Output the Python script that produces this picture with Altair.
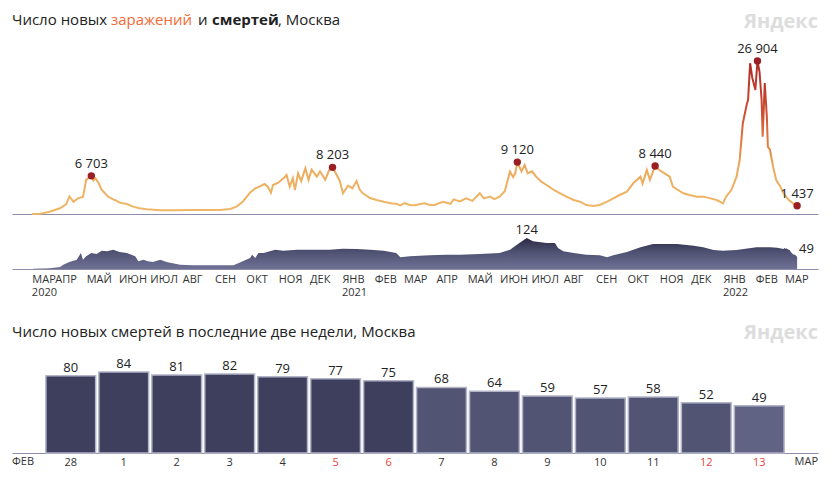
import altair as alt
import pandas as pd

FONT = "Open Sans"
TXT = "#222222"
AXIS_LINE = "#8e8ca8"

MONTHS_RU = ["ЯНВ", "ФЕВ", "МАР", "АПР", "МАЙ", "ИЮН", "ИЮЛ", "АВГ", "СЕН", "ОКТ", "НОЯ", "ДЕК"]
START = "2020-03-10"

# --- daily new cases, Moscow, day offset from 2020-03-10
case_days = [0, 8, 17, 27, 33, 36, 40, 44, 49, 52, 57, 59, 61, 64, 67, 70, 73, 78, 81, 84, 91, 97, 103, 110,
             123, 137, 151, 166, 180, 190, 196, 202, 209, 214, 218, 223, 226, 229, 231, 236, 241, 244, 247, 250,
             252, 255, 258, 262, 265, 268, 273, 276, 281, 285, 288, 292, 295, 298, 303, 307, 311, 314, 317, 324,
             330, 338, 345, 349, 353, 357, 362, 367, 372, 376, 381, 386, 390, 394, 401, 404, 410, 416, 422, 429,
             433, 439, 443, 448, 453, 458, 461, 463, 465, 469, 472, 475, 479, 483, 488, 493, 500, 506, 512, 519,
             525, 531, 538, 544, 551, 557, 563, 570, 576, 583, 585, 589, 592, 597, 601, 606, 611, 614, 619, 624,
             630, 637, 643, 650, 656, 662, 665, 670, 675, 678, 681, 685, 686, 688, 690, 693, 695, 697, 699, 700,
             702, 704, 705, 707, 710, 713, 717, 720, 725, 729, 733]
case_values = [20, 60, 400, 1000, 1760, 3100, 2150, 2750, 3000, 6000, 6703, 5900, 6270, 5400, 4220, 3640, 3050,
               2580, 2330, 2000, 1760, 1290, 1000, 820, 650, 680, 690, 690, 700, 880, 1300, 2160, 3750, 4520,
               4800, 5270, 4800, 3750, 5100, 5500, 6270, 6860, 4800, 6270, 4220, 7150, 5800, 8030, 6000, 7800,
               6560, 7500, 6000, 7800, 8203, 6860, 5800, 3640, 5000, 4500, 5800, 4300, 3640, 2800, 2450, 2100,
               1850, 1800, 1500, 1900, 1600, 1550, 1750, 1900, 1580, 1600, 1900, 2160, 1800, 2580, 2200, 2750,
               2300, 3640, 2750, 3050, 2600, 3050, 4000, 7440, 6500, 7150, 9120, 7500, 8600, 7150, 7500, 6560,
               5680, 5100, 4220, 3640, 3050, 2460, 2160, 1580, 1400, 1580, 2160, 2750, 3340, 3930, 5400, 6560,
               5300, 7740, 6000, 8440, 7740, 7150, 6560, 4800, 4220, 3640, 3350, 3050, 3050, 2750, 2460, 1880,
               3050, 4220, 6560, 9500, 15950, 19460, 20000, 26500, 24000, 21800, 26904, 25000, 20000, 13600,
               23000, 17100, 11800, 11300, 8300, 5970, 4800, 3640, 2460, 1880, 1437]

# --- daily deaths, Moscow
death_days = [1, 17, 27, 30, 36, 43, 47, 49, 52, 57, 62, 67, 72, 78, 84, 91, 99, 102, 107, 111, 116, 123, 129,
              142, 154, 173, 193, 196, 202, 209, 211, 214, 217, 222, 228, 233, 241, 254, 269, 285, 298, 311, 324,
              337, 349, 353, 362, 381, 397, 410, 429, 448, 458, 467, 473, 474, 480, 493, 501, 504, 509, 519, 531,
              544, 551, 557, 570, 583, 595, 605, 618, 634, 643, 653, 662, 675, 694, 707, 714,
              720, 721, 722, 723, 724, 725, 726, 727, 728, 729, 730, 731, 732, 733]
death_values = [1, 3, 8, 17, 28, 37, 64, 37, 51, 64, 60, 73, 71, 77, 68, 64, 51, 31, 37, 31, 28, 37, 28,
                17, 15, 15, 15, 20, 31, 44, 57, 44, 64, 64, 71, 77, 73, 77, 77, 77, 81, 80, 77,
                73, 64, 47, 51, 55, 57, 57, 60, 64, 77, 104, 121, 124, 111, 104, 104, 84, 71, 64, 57,
                55, 47, 55, 68, 87, 100, 100, 100, 93, 87, 76, 73, 76, 87, 87, 85,
                80, 84, 81, 82, 79, 77, 75, 68, 64, 59, 57, 58, 52, 49]

case_peak_days = [57, 288, 465, 597, 695, 733]
case_peak_values = [6703, 8203, 9120, 8440, 26904, 1437]
death_mark_days = [474]
death_mark_values = [124]
death_last_day = [733]
death_last_value = [49]

# year labels under the month axis
year_dates = ["2020-03-10", "2021-01-01", "2022-01-01"]
year_labels = ["2020", "2021", "2022"]

# --- last two weeks
bar_days = ["28", "1", "2", "3", "4", "5", "6", "7", "8", "9", "10", "11", "12", "13"]
bar_values = [80, 84, 81, 82, 79, 77, 75, 68, 64, 59, 57, 58, 52, 49]
weekend_days = ["5", "6", "12", "13"]
bar_month_left = "ФЕВ"
bar_month_right = "МАР"


def fmt(v):
    return f"{v:,}".replace(",", " ")


def to_dates(days):
    return pd.Timestamp(START) + pd.to_timedelta(days, unit="D")


cases_df = pd.DataFrame({"date": to_dates(case_days), "v": case_values})
deaths_df = pd.DataFrame({"date": to_dates(death_days), "v": death_values})
cpeak_df = pd.DataFrame({"date": to_dates(case_peak_days), "v": case_peak_values,
                         "label": [fmt(v) for v in case_peak_values]})
dmark_df = pd.DataFrame({"date": to_dates(death_mark_days), "v": death_mark_values,
                         "label": [fmt(v) for v in death_mark_values]})
dlast_df = pd.DataFrame({"date": to_dates(death_last_day), "v": death_last_value,
                         "label": [fmt(v) for v in death_last_value]})
year_df = pd.DataFrame({"date": pd.to_datetime(year_dates), "label": year_labels})
bar_df = pd.DataFrame({"day": bar_days, "v": bar_values})
one = pd.DataFrame({"k": [0]})

W = 806
HD = 51
x_scale = alt.Scale(domain=[alt.DateTime(year=2020, month=2, date=20),
                            alt.DateTime(year=2022, month=4, date=2)])
tick_values = [alt.DateTime(year=2020, month=3, date=10)]
for yy in (2020, 2021, 2022):
    for mm in range(1, 13):
        if (yy == 2020 and mm < 4) or (yy == 2022 and mm > 3):
            continue
        tick_values.append(alt.DateTime(year=yy, month=mm, date=1))

month_arr = "[" + ",".join(f"'{m}'" for m in MONTHS_RU) + "]"
label_expr = f"{month_arr}[month(datum.value)]"

# ---------------- cases panel
case_grad = alt.Gradient(
    gradient="linear",
    stops=[alt.GradientStop(color="#efb868", offset=0),
           alt.GradientStop(color="#ecaa5c", offset=0.3),
           alt.GradientStop(color="#e3803f", offset=0.45),
           alt.GradientStop(color="#d14f32", offset=0.65),
           alt.GradientStop(color="#ad2a27", offset=1)],
    x1=0, x2=0, y1=1, y2=0)

cx = alt.X("date:T", scale=x_scale,
           axis=alt.Axis(labels=False, ticks=False, grid=False, domain=True,
                         domainColor=AXIS_LINE, domainWidth=1, title=None))
cy = alt.Y("v:Q", scale=alt.Scale(domain=[0, 30060]), axis=None)

case_line = alt.Chart(cases_df).mark_line(stroke=case_grad, strokeWidth=2).encode(x=cx, y=cy)
case_dots = alt.Chart(cpeak_df).mark_circle(size=55, color="#9b1f22", opacity=1).encode(x=cx, y=cy)
case_labels = alt.Chart(cpeak_df).mark_text(baseline="bottom", dy=-5, fontSize=13, color=TXT).encode(
    x=cx, y=cy, text="label:N")


def title_piece(text, xpos, color=TXT, weight="normal", size=15, ypos=-18, align="left"):
    return alt.Chart(one).mark_text(align=align, baseline="alphabetic", fontSize=size, color=color,
                                    fontWeight=weight, text=text).encode(
        x=alt.value(xpos), y=alt.value(ypos))


top_title = [
    title_piece("Число новых", 0),
    title_piece("заражений", 99, color="#f26b38"),
    title_piece("и", 186),
    title_piece("смертей", 200, weight="bold"),
    title_piece(", Москва", 266),
    title_piece("Яндекс", W, color="#dddddd", weight="bold", size=20, ypos=-15, align="right"),
]

cases_chart = alt.layer(case_line, case_dots, case_labels, *top_title).properties(width=W, height=171)

# ---------------- deaths panel
death_grad = alt.Gradient(
    gradient="linear",
    stops=[alt.GradientStop(color="#6f7295", offset=0),
           alt.GradientStop(color="#4f5172", offset=0.55),
           alt.GradientStop(color="#272943", offset=1)],
    x1=0, x2=0, y1=1, y2=0)

dx = alt.X("date:T", scale=x_scale,
           axis=alt.Axis(values=tick_values, labelExpr=label_expr, ticks=False, grid=False,
                         domain=True, domainColor=AXIS_LINE, domainWidth=1, title=None,
                         labelAlign="left", labelPadding=4, labelFontSize=11, labelColor="#333333",
                         labelOverlap=False, labelFlush=False, labelFont=FONT))
dy = alt.Y("v:Q", scale=alt.Scale(domain=[0, 204]), axis=None)

death_area = alt.Chart(deaths_df).mark_area(color=death_grad).encode(x=dx, y=dy)
death_lab = alt.Chart(dmark_df).mark_text(baseline="bottom", dy=-1, fontSize=13, color=TXT).encode(
    x=dx, y=dy, text="label:N")
death_last = alt.Chart(dlast_df).mark_text(align="left", baseline="middle", dx=2, dy=-8, fontSize=13,
                                           color=TXT).encode(x=dx, y=dy, text="label:N")
year_text = alt.Chart(year_df).mark_text(align="left", baseline="top", fontSize=11, color="#333333").encode(
    x=dx, y=alt.value(HD + 18), text="label:N")

deaths_chart = alt.layer(death_area, death_lab, death_last, year_text).properties(width=W, height=HD)

top = alt.vconcat(cases_chart, deaths_chart, spacing=0)

# ---------------- bars
HB = 100
label_color = {"condition": {"test": "indexof(" + str(weekend_days) + ", datum.label) >= 0",
                             "value": "#e8453c"},
               "value": "#333333"}
bx = alt.X("day:N", sort=bar_days,
           scale=alt.Scale(paddingInner=0.06, paddingOuter=0.64),
           axis=alt.Axis(title=None, ticks=False, labelAngle=0, labelPadding=3, labelFontSize=11,
                         labelColor=label_color, domainColor=AXIS_LINE, domainWidth=1, grid=False,
                         labelFont=FONT))
by = alt.Y("v:Q", scale=alt.Scale(domain=[0, 103.7]), axis=None)
bars = alt.Chart(bar_df).mark_bar(stroke="#b3b4c7", strokeWidth=1.5).encode(
    x=bx, y=by,
    color=alt.Color("v:Q", scale=alt.Scale(type="threshold", domain=[50, 70],
                                           range=["#606383", "#525473", "#3d3f5c"]), legend=None))
bar_text = alt.Chart(bar_df).mark_text(baseline="alphabetic", dy=-4, fontSize=13, color=TXT).encode(
    x=bx, y=by, text="v:Q")

bottom_extra = [
    title_piece("Число новых смертей в последние две недели, Москва", 0, ypos=-16),
    title_piece("Яндекс", W, color="#dddddd", weight="bold", size=20, ypos=-14, align="right"),
    alt.Chart(one).mark_text(align="left", baseline="top", fontSize=11, color="#333333",
                             text=bar_month_left).encode(x=alt.value(0), y=alt.value(HB + 3)),
    alt.Chart(one).mark_text(align="right", baseline="top", fontSize=11, color="#333333",
                             text=bar_month_right).encode(x=alt.value(W), y=alt.value(HB + 3)),
]

bar_chart = alt.layer(bars, bar_text, *bottom_extra).properties(width=W, height=HB)

chart = alt.vconcat(top, bar_chart, spacing=25).properties(
    padding={"left": 4, "top": 4, "right": 4, "bottom": 4}
).configure(font=FONT).configure_view(stroke=None)

chart.save("out.html", embed_options={"renderer": "svg", "actions": False})
